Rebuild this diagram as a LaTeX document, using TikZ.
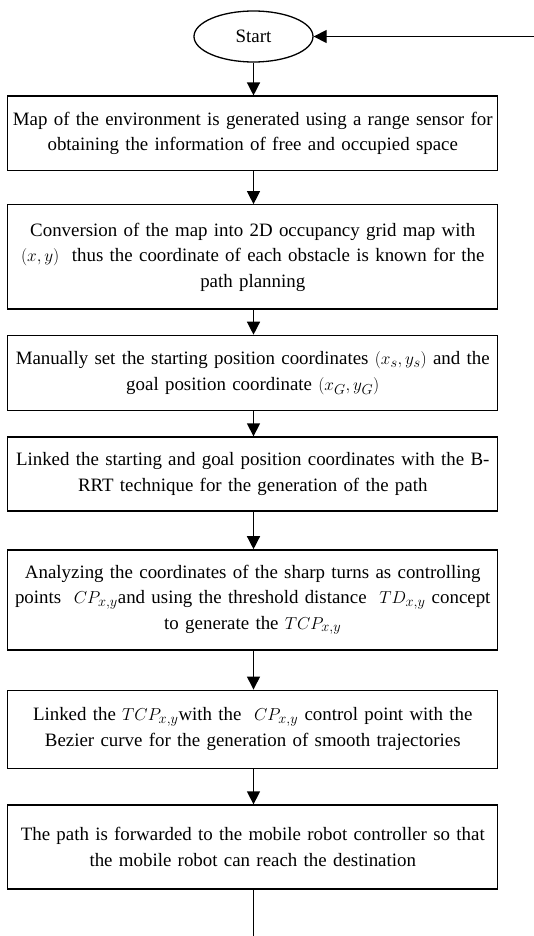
\documentclass[tikz,border=0pt]{standalone}
\usepackage{fontspec}
\setmainfont{Liberation Serif}
\usetikzlibrary{arrows.meta,shapes.geometric}
\begin{document}
\begin{tikzpicture}[x=1pt,y=-1pt,
  every node/.style={font=\fontsize{18.9}{25.5}\selectfont},
  stepbox/.style={draw, line width=1.3pt, rectangle, minimum width=486pt,
    text width=490pt, align=center, inner sep=0pt},
  startnode/.style={draw, line width=1.3pt, ellipse, minimum width=119pt,
    minimum height=51pt, inner sep=0pt},
  flow/.style={line width=1.3pt, -{Triangle[length=13pt,width=13pt]}},
  plain/.style={line width=1.3pt}]
\useasboundingbox (0,0) rectangle (534,936);

\node[startnode] (start) at (253.5,36.5) {Start};

\node[stepbox, minimum height=74.6pt] (b1) at (252.75,133.4)
  {Map of the environment is generated using a range sensor for\\
   obtaining the information of free and occupied space};
\node[stepbox, minimum height=104.2pt] (b2) at (252.75,256.9)
  {Conversion of the map into 2D occupancy grid map with\\
   $(x,y)$\ \ thus the coordinate of each obstacle is known for the\\
   path planning};
\node[stepbox, minimum height=75.3pt] (b3) at (252.75,373)
  {Manually set the starting position coordinates $(x_s,y_s)$ and the\\
   goal position coordinate $(x_G,y_G)$};
\node[stepbox, minimum height=74pt] (b4) at (252.75,474)
  {Linked the starting and goal position coordinates with the B-\\
   RRT technique for the generation of the path};
\node[stepbox, minimum height=100.1pt] (b5) at (252.75,599.9)
  {Analyzing the coordinates of the sharp turns as controlling\\
   points\ \ $CP_{x,y}$and using the threshold distance\ \ $TD_{x,y}$ concept\\
   to generate the $TCP_{x,y}$};
\node[stepbox, minimum height=78pt] (b6) at (252.75,729.2)
  {Linked the $TCP_{x,y}$with the\ \ $CP_{x,y}$ control point with the\\
   Bezier curve for the generation of smooth trajectories};
\node[stepbox, minimum height=84pt] (b7) at (252.75,847)
  {The path is forwarded to the mobile robot controller so that\\
   the mobile robot can reach the destination};

\coordinate (loopin) at (534,36.5);
\coordinate (loopout) at (253.5,936);

\draw[flow] (start.south) -- (b1.north -| start.south);
\draw[flow] (b1.south -| start.south) -- (b2.north -| start.south);
\draw[flow] (b2.south -| start.south) -- (b3.north -| start.south);
\draw[flow] (b3.south -| start.south) -- (b4.north -| start.south);
\draw[flow] (b4.south -| start.south) -- (b5.north -| start.south);
\draw[flow] (b5.south -| start.south) -- (b6.north -| start.south);
\draw[flow] (b6.south -| start.south) -- (b7.north -| start.south);
\draw[plain] (b7.south -| loopout) -- (loopout);
\draw[flow] (loopin) -- (start.east);
\end{tikzpicture}
\end{document}
